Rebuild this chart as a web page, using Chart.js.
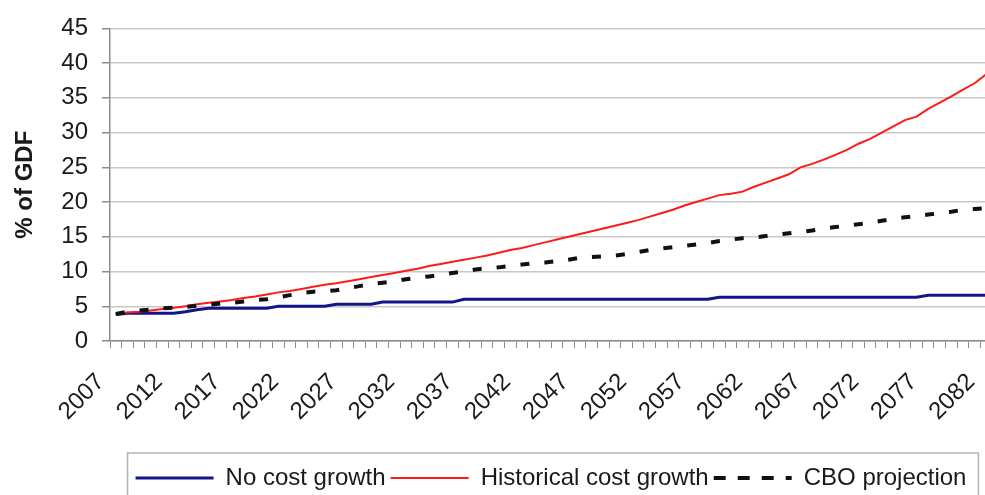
<!DOCTYPE html>
<html lang="en">
<head>
    <meta charset="UTF-8">
    <title>% of GDF projection</title>
    <script src="https://cdn.jsdelivr.net/npm/chart.js"></script>
    <style>
        html, body { margin: 0; padding: 0; overflow: hidden; background: #fff; }
        #wrap { width: 992px; height: 500px; }
    </style>
    <script>
        // years 2007 .. 2082
        const years = [];
        for (let y = 2007; y <= 2082; y++) years.push(String(y));

        const noCostGrowth = [
            3.8, 4.0, 4.0, 4.0, 4.0, 4.0, 4.2, 4.5, 4.7, 4.7,
            4.7, 4.7, 4.7, 4.7, 5.0, 5.0, 5.0, 5.0, 5.0, 5.3,
            5.3, 5.3, 5.3, 5.6, 5.6, 5.6, 5.6, 5.6, 5.6, 5.6,
            6.0, 6.0, 6.0, 6.0, 6.0, 6.0, 6.0, 6.0, 6.0, 6.0,
            6.0, 6.0, 6.0, 6.0, 6.0, 6.0, 6.0, 6.0, 6.0, 6.0,
            6.0, 6.0, 6.3, 6.3, 6.3, 6.3, 6.3, 6.3, 6.3, 6.3,
            6.3, 6.3, 6.3, 6.3, 6.3, 6.3, 6.3, 6.3, 6.3, 6.3,
            6.6, 6.6, 6.6, 6.6, 6.6, 6.6
        ];
        const historicalGrowth = [
            3.9, 4.1, 4.2, 4.4, 4.6, 4.8, 5.0, 5.3, 5.5, 5.7,
            5.9, 6.2, 6.4, 6.7, 7.0, 7.2, 7.5, 7.8, 8.1, 8.3,
            8.6, 8.9, 9.2, 9.5, 9.8, 10.1, 10.4, 10.8, 11.1, 11.4,
            11.7, 12.0, 12.3, 12.7, 13.1, 13.4, 13.8, 14.2, 14.6, 15.0,
            15.4, 15.8, 16.2, 16.6, 17.0, 17.4, 17.9, 18.4, 18.9, 19.5,
            20.0, 20.5, 21.0, 21.2, 21.5, 22.2, 22.8, 23.4, 24.0, 25.0,
            25.5, 26.1, 26.8, 27.5, 28.4, 29.1, 30.0, 30.9, 31.8, 32.3,
            33.4, 34.3, 35.2, 36.2, 37.1, 38.4
        ];
        const cboProjection = [
            3.9, 4.2, 4.4, 4.5, 4.7, 4.8, 4.9, 5.1, 5.2, 5.4,
            5.5, 5.7, 5.9, 6.0, 6.3, 6.6, 6.9, 7.1, 7.2, 7.3,
            7.6, 7.9, 8.2, 8.4, 8.6, 8.9, 9.1, 9.3, 9.5, 9.8,
            10.0, 10.3, 10.5, 10.6, 10.8, 11.0, 11.2, 11.3, 11.5, 11.7,
            12.0, 12.1, 12.2, 12.3, 12.5, 12.8, 13.1, 13.3, 13.5, 13.7,
            13.9, 14.1, 14.4, 14.6, 14.8, 14.9, 15.1, 15.3, 15.5, 15.7,
            15.9, 16.2, 16.4, 16.6, 16.8, 17.0, 17.3, 17.6, 17.8, 18.0,
            18.2, 18.4, 18.6, 18.9, 19.0, 19.1
        ];

        const FONT = "'Liberation Sans', Arial, sans-serif";

        // thin grey frame round the legend, like the original
        const legendFrame = {
            id: 'legendFrame',
            afterDraw(chart) {
                const lg = chart.legend;
                const boxes = lg.legendHitBoxes;
                if (!boxes || !boxes.length) return;
                const first = boxes[0], last = boxes[boxes.length - 1];
                const ctx = chart.ctx;
                ctx.save();
                ctx.strokeStyle = '#b4b4b4';
                ctx.lineWidth = 1.5;
                ctx.strokeRect(first.left - 8, lg.top - 8,
                    last.left + last.width - first.left + 20, lg.height + 20);
                ctx.restore();
            }
        };

        window.onload = function() {
            const ctx = document.getElementById('gdpChart').getContext('2d');
            new Chart(ctx, {
                type: 'line',
                data: {
                    labels: years,
                    datasets: [{
                        label: 'No cost growth',
                        data: noCostGrowth,
                        borderColor: '#14148a',
                        borderWidth: 3,
                        order: 3
                    }, {
                        label: 'Historical cost growth',
                        data: historicalGrowth,
                        borderColor: '#ff1a1a',
                        borderWidth: 2,
                        order: 2
                    }, {
                        label: 'CBO projection',
                        data: cboProjection,
                        borderColor: '#111',
                        borderWidth: 4,
                        borderDash: [9, 15],
                        order: 1
                    }]
                },
                options: {
                    responsive: false,
                    animation: false,
                    layout: { padding: { top: 23, left: 0, right: 0, bottom: 0 } },
                    elements: {
                        point: { radius: 0 },
                        line: { tension: 0, fill: false }
                    },
                    plugins: {
                        tooltip: { enabled: false },
                        legend: {
                            position: 'bottom',
                            fullSize: false,
                            labels: {
                                boxWidth: 78,
                                boxHeight: 0,
                                padding: 5,
                                color: '#1a1a1a',
                                font: { family: FONT, size: 24 },
                                sort: (a, b) => a.datasetIndex - b.datasetIndex
                            }
                        }
                    },
                    scales: {
                        x: {
                            offset: true,
                            grid: {
                                offset: true,
                                drawOnChartArea: false,
                                tickLength: 7,
                                tickColor: '#8c8c8c',
                                lineWidth: 1
                            },
                            border: { color: '#8c8c8c', width: 1.5 },
                            ticks: {
                                autoSkip: false,
                                maxRotation: 45,
                                minRotation: 45,
                                padding: 20,
                                labelOffset: -15,
                                color: '#1a1a1a',
                                font: { family: FONT, size: 24 },
                                callback: function(val, i) {
                                    return i % 5 === 0 ? this.getLabelForValue(val) : '';
                                }
                            },
                            afterFit: s => {
                                s.height = 120;
                                s.paddingLeft = 0;
                                s.paddingRight = 0;
                            }
                        },
                        y: {
                            min: 0,
                            max: 45,
                            grid: {
                                color: '#c8c8c8',
                                lineWidth: 1.5,
                                tickLength: 8,
                                tickColor: '#8c8c8c'
                            },
                            border: { color: '#8c8c8c', width: 1.5 },
                            ticks: {
                                stepSize: 5,
                                padding: 14,
                                color: '#1a1a1a',
                                font: { family: FONT, size: 24 }
                            },
                            title: {
                                display: true,
                                text: '% of GDF',
                                color: '#1a1a1a',
                                font: { family: FONT, size: 24, weight: 'bold' },
                                padding: { top: 11, bottom: 4 }
                            },
                            afterFit: s => { s.width = 110; }
                        }
                    }
                },
                plugins: [legendFrame]
            });
        };
    </script>
</head>
<body>
    <div id="wrap">
        <canvas id="gdpChart" width="992" height="500"></canvas>
    </div>
</body>
</html>
